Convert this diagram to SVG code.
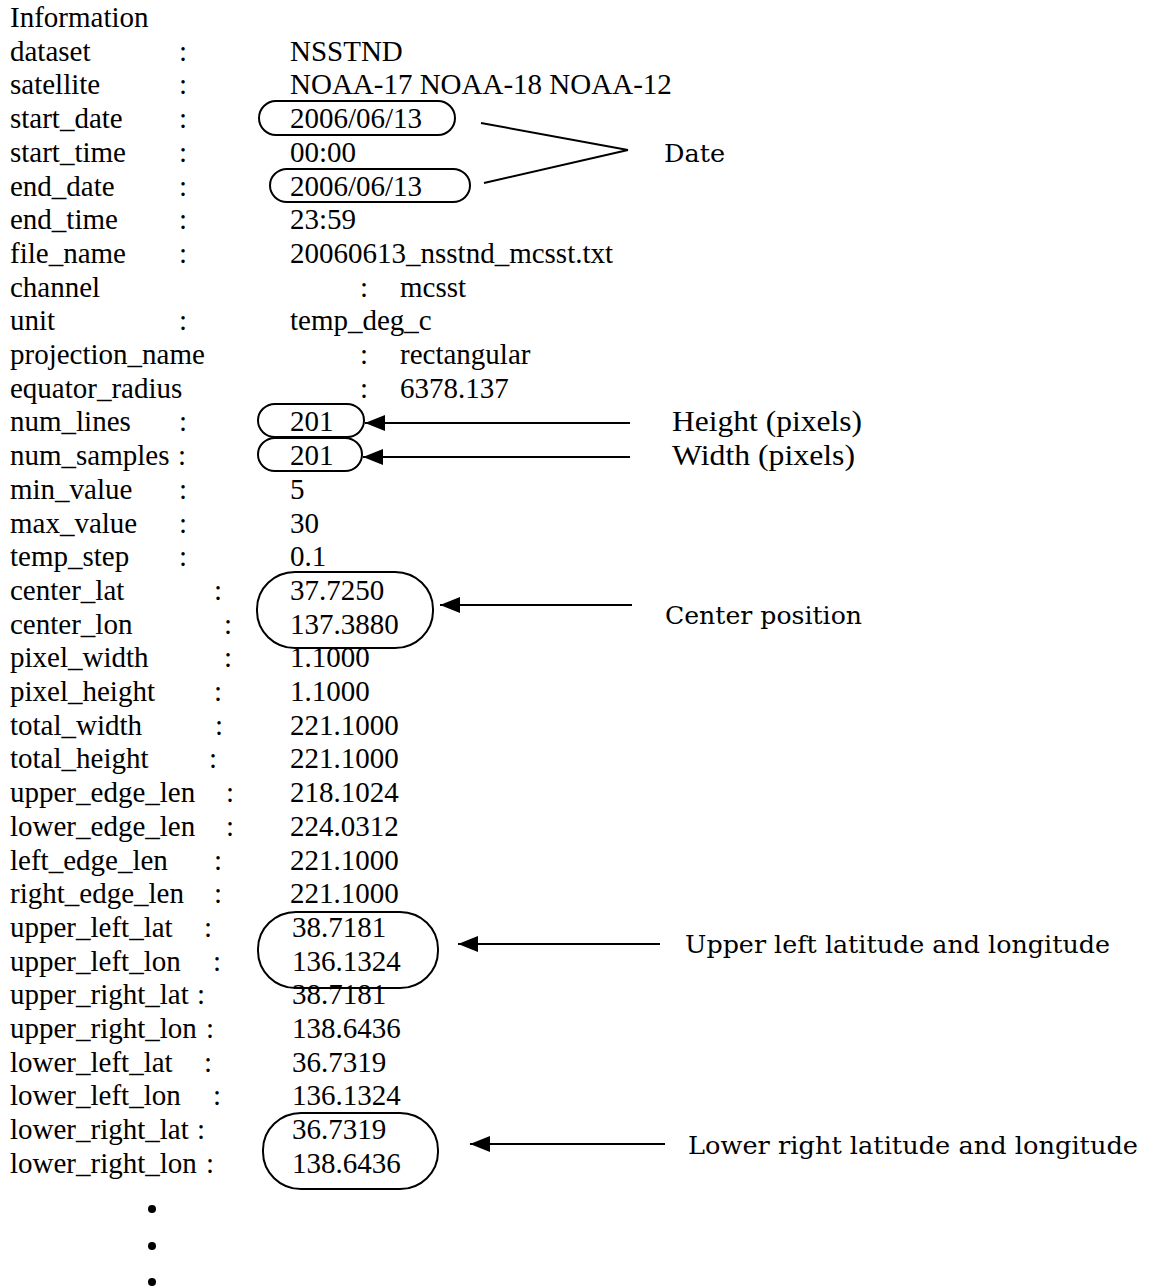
<svg xmlns="http://www.w3.org/2000/svg" width="1150" height="1288" viewBox="0 0 1150 1288">
<style>
.t{font-family:"Liberation Serif","Times New Roman",serif;font-size:29px;fill:#000}
.c{font-family:"DejaVu Serif","Liberation Serif",serif;font-size:25px;fill:#000}
.m{text-anchor:middle}
.sh{fill:none;stroke:#000;stroke-width:2}
.ln{fill:none;stroke:#000;stroke-width:2}
</style>
<defs>
<marker id="ah" markerUnits="userSpaceOnUse" markerWidth="22" markerHeight="16" refX="20" refY="8" orient="auto">
<path d="M0,0 L20,8 L0,16 Z" fill="#000"/>
</marker>
</defs>
<rect width="1150" height="1288" fill="#fff"/>

<g id="table">
<text class="t" x="10" y="27">Information</text>
<g id="r-dataset"><text class="t" x="10" y="60.7">dataset</text><text class="t m" x="183" y="60.7">:</text><text class="t" x="290" y="60.7">NSSTND</text></g>
<g id="r-satellite"><text class="t" x="10" y="94.4">satellite</text><text class="t m" x="183" y="94.4">:</text><text class="t" x="290" y="94.4">NOAA-17 NOAA-18 NOAA-12</text></g>
<g id="r-start_date"><text class="t" x="10" y="128.1">start_date</text><text class="t m" x="183" y="128.1">:</text></g>
<g id="r-start_time"><text class="t" x="10" y="161.8">start_time</text><text class="t m" x="183" y="161.8">:</text><text class="t" x="290" y="161.8">00:00</text></g>
<g id="r-end_date"><text class="t" x="10" y="195.5">end_date</text><text class="t m" x="183" y="195.5">:</text></g>
<g id="r-end_time"><text class="t" x="10" y="229.2">end_time</text><text class="t m" x="183" y="229.2">:</text><text class="t" x="290" y="229.2">23:59</text></g>
<g id="r-file_name"><text class="t" x="10" y="262.9">file_name</text><text class="t m" x="183" y="262.9">:</text><text class="t" x="290" y="262.9">20060613_nsstnd_mcsst.txt</text></g>
<g id="r-channel"><text class="t" x="10" y="296.6">channel</text><text class="t m" x="364" y="296.6">:</text><text class="t" x="400" y="296.6">mcsst</text></g>
<g id="r-unit"><text class="t" x="10" y="330.3">unit</text><text class="t m" x="183" y="330.3">:</text><text class="t" x="290" y="330.3">temp_deg_c</text></g>
<g id="r-projection_name"><text class="t" x="10" y="364">projection_name</text><text class="t m" x="364" y="364">:</text><text class="t" x="400" y="364">rectangular</text></g>
<g id="r-equator_radius"><text class="t" x="10" y="397.7">equator_radius</text><text class="t m" x="364" y="397.7">:</text><text class="t" x="400" y="397.7">6378.137</text></g>
<g id="r-num_lines"><text class="t" x="10" y="431.4">num_lines</text><text class="t m" x="183" y="431.4">:</text></g>
<g id="r-num_samples"><text class="t" x="10" y="465.1">num_samples</text><text class="t m" x="182" y="465.1">:</text></g>
<g id="r-min_value"><text class="t" x="10" y="498.8">min_value</text><text class="t m" x="183" y="498.8">:</text><text class="t" x="290" y="498.8">5</text></g>
<g id="r-max_value"><text class="t" x="10" y="532.5">max_value</text><text class="t m" x="183" y="532.5">:</text><text class="t" x="290" y="532.5">30</text></g>
<g id="r-temp_step"><text class="t" x="10" y="566.2">temp_step</text><text class="t m" x="183" y="566.2">:</text><text class="t" x="290" y="566.2">0.1</text></g>
<g id="r-center_lat"><text class="t" x="10" y="599.9">center_lat</text><text class="t m" x="218" y="599.9">:</text></g>
<g id="r-center_lon"><text class="t" x="10" y="633.6">center_lon</text><text class="t m" x="228" y="633.6">:</text></g>
<g id="r-pixel_width"><text class="t" x="10" y="667.3">pixel_width</text><text class="t m" x="228" y="667.3">:</text><text class="t" x="290" y="667.3">1.1000</text></g>
<g id="r-pixel_height"><text class="t" x="10" y="701">pixel_height</text><text class="t m" x="218" y="701">:</text><text class="t" x="290" y="701">1.1000</text></g>
<g id="r-total_width"><text class="t" x="10" y="734.7">total_width</text><text class="t m" x="219" y="734.7">:</text><text class="t" x="290" y="734.7">221.1000</text></g>
<g id="r-total_height"><text class="t" x="10" y="768.4">total_height</text><text class="t m" x="213" y="768.4">:</text><text class="t" x="290" y="768.4">221.1000</text></g>
<g id="r-upper_edge_len"><text class="t" x="10" y="802.1">upper_edge_len</text><text class="t m" x="230" y="802.1">:</text><text class="t" x="290" y="802.1">218.1024</text></g>
<g id="r-lower_edge_len"><text class="t" x="10" y="835.8">lower_edge_len</text><text class="t m" x="230" y="835.8">:</text><text class="t" x="290" y="835.8">224.0312</text></g>
<g id="r-left_edge_len"><text class="t" x="10" y="869.5">left_edge_len</text><text class="t m" x="218" y="869.5">:</text><text class="t" x="290" y="869.5">221.1000</text></g>
<g id="r-right_edge_len"><text class="t" x="10" y="903.2">right_edge_len</text><text class="t m" x="218" y="903.2">:</text><text class="t" x="290" y="903.2">221.1000</text></g>
<g id="r-upper_left_lat"><text class="t" x="10" y="936.9">upper_left_lat</text><text class="t m" x="208" y="936.9">:</text></g>
<g id="r-upper_left_lon"><text class="t" x="10" y="970.6">upper_left_lon</text><text class="t m" x="217" y="970.6">:</text></g>
<g id="r-upper_right_lat"><text class="t" x="10" y="1004.3">upper_right_lat</text><text class="t m" x="201" y="1004.3">:</text><text class="t" x="292" y="1004.3">38.7181</text></g>
<g id="r-upper_right_lon"><text class="t" x="10" y="1038">upper_right_lon</text><text class="t m" x="210" y="1038">:</text><text class="t" x="292" y="1038">138.6436</text></g>
<g id="r-lower_left_lat"><text class="t" x="10" y="1071.7">lower_left_lat</text><text class="t m" x="208" y="1071.7">:</text><text class="t" x="292" y="1071.7">36.7319</text></g>
<g id="r-lower_left_lon"><text class="t" x="10" y="1105.4">lower_left_lon</text><text class="t m" x="217" y="1105.4">:</text><text class="t" x="292" y="1105.4">136.1324</text></g>
<g id="r-lower_right_lat"><text class="t" x="10" y="1139.1">lower_right_lat</text><text class="t m" x="201" y="1139.1">:</text></g>
<g id="r-lower_right_lon"><text class="t" x="10" y="1172.8">lower_right_lon</text><text class="t m" x="210" y="1172.8">:</text></g>
</g>

<g id="n-start_date"><rect class="sh" x="259" y="101" width="196" height="34" rx="17" ry="17"/><text class="t" x="290" y="128.1">2006/06/13</text></g>
<g id="n-end_date"><rect class="sh" x="270" y="169" width="200" height="33" rx="17" ry="16.5"/><text class="t" x="290" y="195.5">2006/06/13</text></g>
<g id="n-num_lines"><rect class="sh" x="258" y="404" width="106" height="33" rx="17" ry="16.5"/><text class="t" x="290" y="431.4">201</text></g>
<g id="n-num_samples"><rect class="sh" x="258" y="438" width="104" height="33" rx="17" ry="16.5"/><text class="t" x="290" y="465.1">201</text></g>
<g id="n-center"><rect class="sh" x="257" y="572" width="176" height="76" rx="38" ry="37"/><text class="t" x="290" y="599.9">37.7250</text><text class="t" x="290" y="633.6">137.3880</text></g>
<g id="n-upper_left"><rect class="sh" x="258" y="912" width="180" height="76" rx="38" ry="37"/><text class="t" x="292" y="936.9">38.7181</text><text class="t" x="292" y="970.6">136.1324</text></g>
<g id="n-lower_right"><rect class="sh" x="263" y="1113" width="175" height="76" rx="38" ry="37"/><text class="t" x="292" y="1139.1">36.7319</text><text class="t" x="292" y="1172.8">138.6436</text></g>

<g id="connectors">
<line class="ln" x1="481" y1="123" x2="628" y2="150"/>
<line class="ln" x1="484" y1="183" x2="628" y2="150"/>
<line class="ln" x1="630" y1="423" x2="365" y2="423" marker-end="url(#ah)"/>
<line class="ln" x1="630" y1="457" x2="363" y2="457" marker-end="url(#ah)"/>
<line class="ln" x1="632" y1="605" x2="440" y2="605" marker-end="url(#ah)"/>
<line class="ln" x1="660" y1="944" x2="458" y2="944" marker-end="url(#ah)"/>
<line class="ln" x1="665" y1="1144" x2="470" y2="1144" marker-end="url(#ah)"/>
</g>

<g id="l-date"><text class="c" x="664" y="162" textLength="61" lengthAdjust="spacingAndGlyphs">Date</text></g>
<g id="l-height"><text class="t" x="672" y="431.4" textLength="190" lengthAdjust="spacingAndGlyphs">Height (pixels)</text></g>
<g id="l-width"><text class="t" x="672" y="465.1" textLength="183" lengthAdjust="spacingAndGlyphs">Width (pixels)</text></g>
<g id="l-center"><text class="c" x="665" y="624" textLength="197" lengthAdjust="spacingAndGlyphs">Center position</text></g>
<g id="l-upper_left"><text class="c" x="685" y="953" textLength="425" lengthAdjust="spacingAndGlyphs">Upper left latitude and longitude</text></g>
<g id="l-lower_right"><text class="c" x="688" y="1154" textLength="450" lengthAdjust="spacingAndGlyphs">Lower right latitude and longitude</text></g>

<g id="dots" fill="#000">
<circle cx="152" cy="1209" r="4"/>
<circle cx="152" cy="1246" r="4"/>
<circle cx="152" cy="1282" r="4"/>
</g>
</svg>
